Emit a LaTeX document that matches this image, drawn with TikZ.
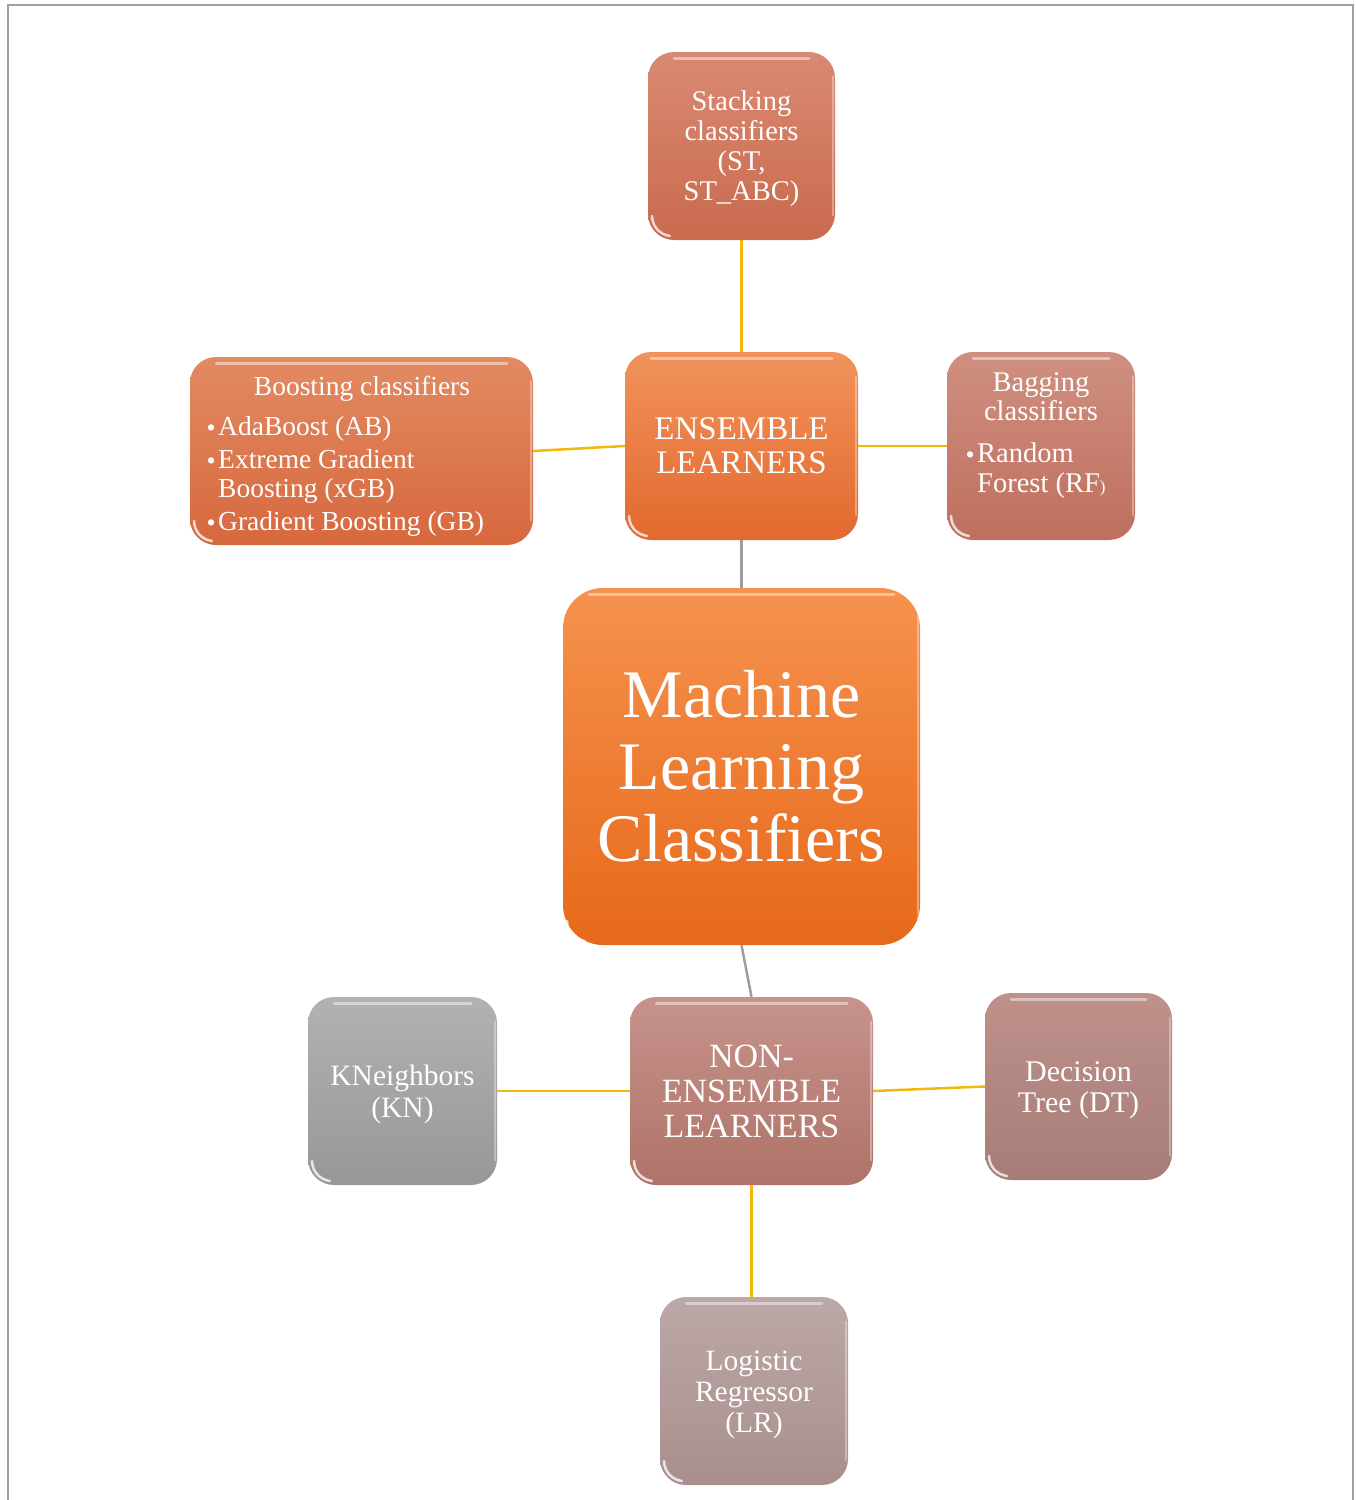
\documentclass[tikz,border=0pt]{standalone}
\usepackage{fontspec}
\setmainfont{Liberation Serif}
\definecolor{linkY}{HTML}{F5B70A}
\definecolor{linkG}{HTML}{9E9E9E}
\definecolor{frameG}{HTML}{A0A0A0}
\definecolor{stT}{HTML}{D98A72}\definecolor{stB}{HTML}{C96A4E}
\definecolor{enT}{HTML}{F1935C}\definecolor{enB}{HTML}{E2692E}
\definecolor{boT}{HTML}{E28A62}\definecolor{boB}{HTML}{D7683E}
\definecolor{baT}{HTML}{CF8F80}\definecolor{baB}{HTML}{BF6F5E}
\definecolor{maT}{HTML}{F6924E}\definecolor{maB}{HTML}{E6691A}
\definecolor{noT}{HTML}{C6938C}\definecolor{noB}{HTML}{AF7368}
\definecolor{knT}{HTML}{B2B2B2}\definecolor{knB}{HTML}{979797}
\definecolor{dtT}{HTML}{BE918B}\definecolor{dtB}{HTML}{A87D77}
\definecolor{lrT}{HTML}{BCA8A7}\definecolor{lrB}{HTML}{A88F8D}
\begin{document}
\begin{tikzpicture}[x=1pt,y=-1pt,
  box/.style={rounded corners=26pt, inner sep=0pt, text=white, align=center,
    path picture={
      \draw[white,opacity=0.45,line width=3pt,line cap=round]
        ([xshift=26pt,yshift=-6pt]path picture bounding box.north west) --
        ([xshift=-26pt,yshift=-6pt]path picture bounding box.north east);
      \draw[white,opacity=0.75,line width=2.5pt,line cap=round]
        ([xshift=4pt,yshift=24pt]path picture bounding box.south west) to[bend right=40]
        ([xshift=22pt,yshift=4pt]path picture bounding box.south west);
      \draw[white,opacity=0.35,line width=2pt]
        ([xshift=-2pt,yshift=-24pt]path picture bounding box.north east) --
        ([xshift=-2pt,yshift=24pt]path picture bounding box.south east);
    }},
  txt/.style={text=white, inner sep=0pt},
  bul/.style={txt, anchor=base east, font=\fontsize{26}{28}\selectfont},
  ylink/.style={draw=linkY, line width=2.5pt},
  glink/.style={draw=linkG, line width=2.5pt}]
\useasboundingbox (0,0) rectangle (1356,1500);
\draw[frameG, line width=1.8pt] (8,1500) -- (8,5) -- (1353,5) -- (1353,1500);

% boxes
\node[box, minimum width=187pt, minimum height=188pt, top color=stT, bottom color=stB,
  font=\fontsize{28.5}{30}\selectfont] (stack) at (741.5,146)
  {\rule{0pt}{26pt}Stacking\\classifiers\\(ST,\\ST\_ABC)};
\node[box, minimum width=233pt, minimum height=188pt, top color=enT, bottom color=enB,
  font=\fontsize{33}{34}\selectfont] (ens) at (741.5,446)
  {ENSEMBLE\\LEARNERS};
\node[box, minimum width=343pt, minimum height=188pt, top color=boT, bottom color=boB] (boost) at (361.5,451) {};
\node[box, minimum width=188pt, minimum height=188pt, top color=baT, bottom color=baB] (bag) at (1041,446) {};
\node[box, rounded corners=40pt, minimum width=357pt, minimum height=357pt, top color=maT, bottom color=maB,
  font=\fontsize{68}{72}\selectfont] (main) at (741.5,766.5)
  {Machine\\Learning\\Classifiers};
\node[box, minimum width=243pt, minimum height=188pt, top color=noT, bottom color=noB,
  font=\fontsize{34}{35}\selectfont] (non) at (751.5,1091)
  {NON-\\ENSEMBLE\\LEARNERS};
\node[box, minimum width=189pt, minimum height=188pt, top color=knT, bottom color=knB,
  font=\fontsize{29.5}{32}\selectfont] (kn) at (402.5,1091)
  {\rule{0pt}{27pt}KNeighbors\\(KN)};
\node[box, minimum width=187pt, minimum height=187pt, top color=dtT, bottom color=dtB,
  font=\fontsize{30}{31}\selectfont] (dt) at (1078.5,1086.5)
  {\rule{0pt}{27pt}Decision\\Tree (DT)};
\node[box, minimum width=188pt, minimum height=188pt, top color=lrT, bottom color=lrB,
  font=\fontsize{29.5}{31}\selectfont] (lr) at (754,1391)
  {\rule{0pt}{27pt}Logistic\\Regressor\\(LR)};

% boosting text
\begin{scope}[every node/.style={txt, font=\fontsize{27.5}{30}\selectfont}]
\node[anchor=base] (boT1) at (362,395) {Boosting classifiers};
\node[anchor=base west] (boL1) at (218,435) {AdaBoost (AB)};
\node[anchor=base west] (boL2) at (218,468) {Extreme Gradient};
\node[anchor=base west] (boL3) at (218,497) {Boosting (xGB)};
\node[anchor=base west] (boL4) at (218,530) {Gradient Boosting (GB)};
\end{scope}
\node[bul] (boB1) at (216,436.5) {\textbullet};
\node[bul] (boB2) at (216,469.5) {\textbullet};
\node[bul] (boB3) at (216,531.5) {\textbullet};

% bagging text
\begin{scope}[every node/.style={txt, font=\fontsize{28.5}{30}\selectfont}]
\node[anchor=base] (baT1) at (1041,391) {Bagging};
\node[anchor=base] (baT2) at (1041,420) {classifiers};
\node[anchor=base west] (baL1) at (977,462) {Random};
\node[anchor=base west] (baL2) at (977,492) {Forest (RF{\fontsize{17}{18}\selectfont)}};
\end{scope}
\node[bul] (baB1) at (975,463.5) {\textbullet};

% connectors
\draw[ylink] (stack.south) -- (ens.north);
\draw[ylink] (boost.east) -- (ens.west);
\draw[ylink] (ens.east) -- (bag.west);
\draw[glink] (ens.south) -- (main.north);
\draw[glink] (main.south) -- (non.north);
\draw[ylink] (kn.east) -- (non.west);
\draw[ylink] (non.east) -- (dt.west);
\draw[ylink] (non.south) -- (non.south |- lr.north);
\end{tikzpicture}
\end{document}
